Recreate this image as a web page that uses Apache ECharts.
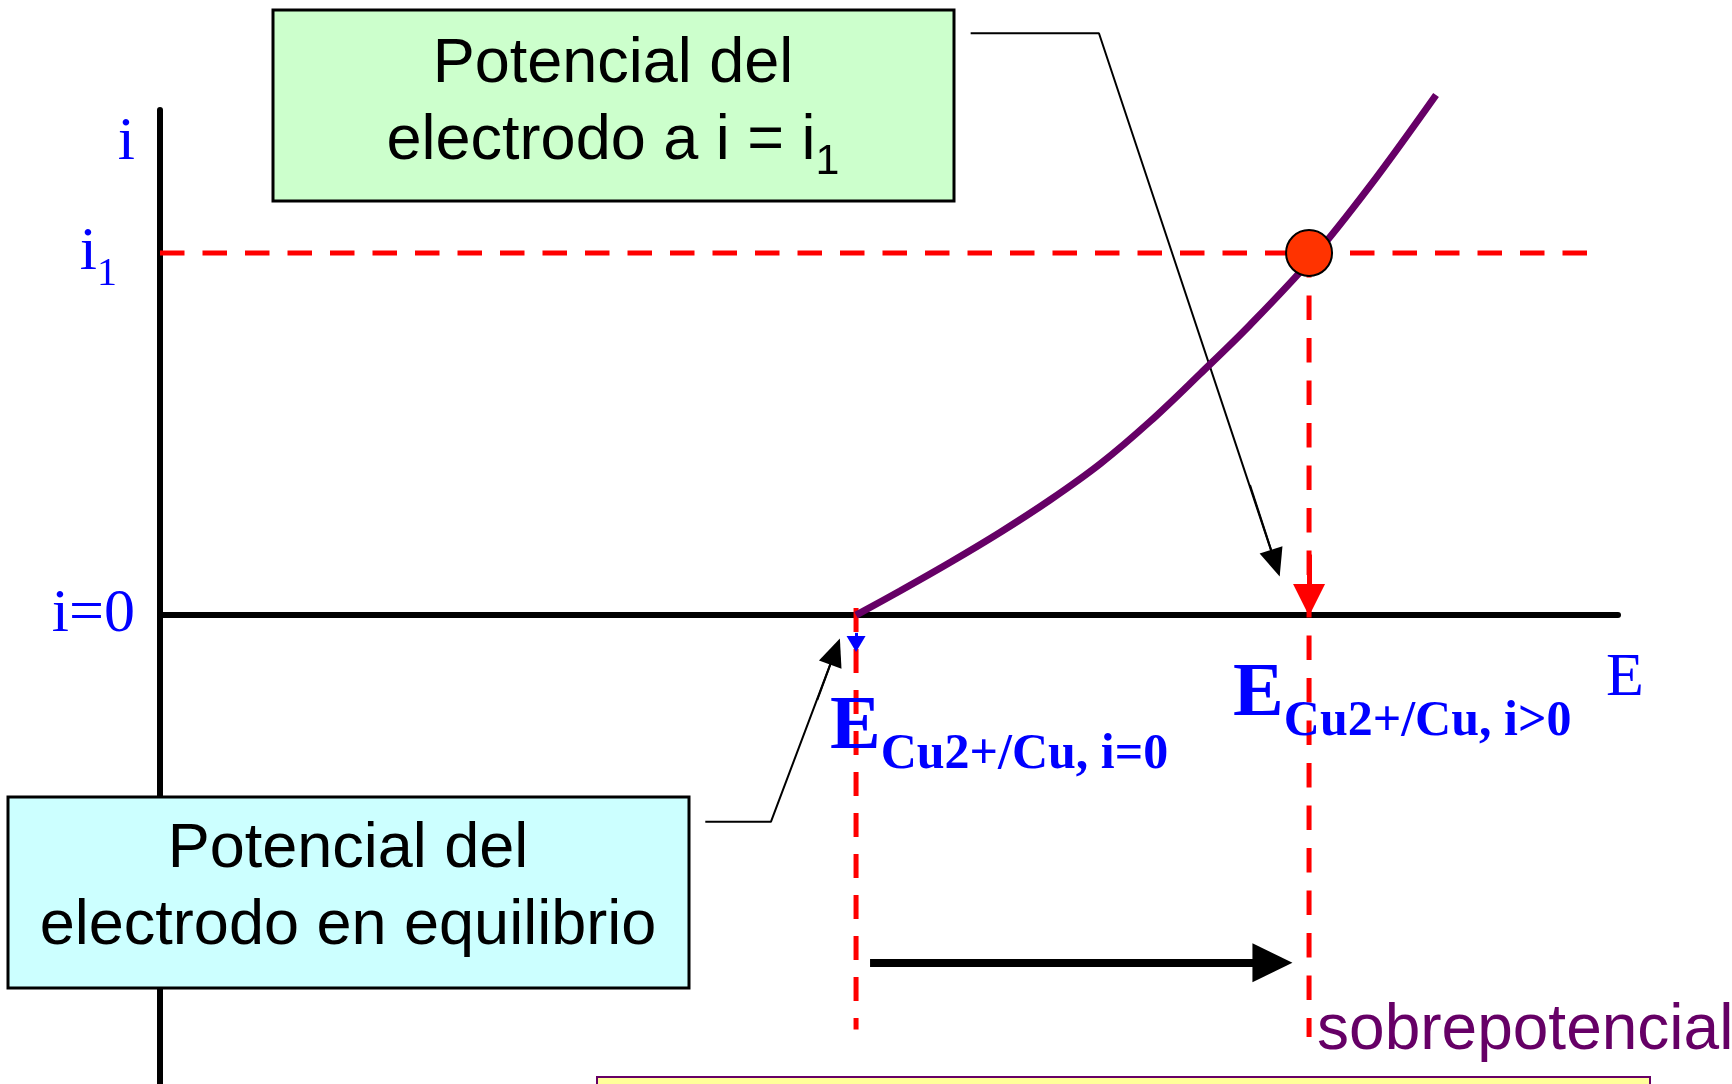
<!DOCTYPE html>
<html>
<head>
<meta charset="utf-8">
<script src="https://cdn.jsdelivr.net/npm/echarts@6/dist/echarts.min.js"></script>
<style>
html, body { margin: 0; padding: 0; background: #fff; }
#chart { width: 1732px; height: 1084px; }
</style>
</head>
<body>
<div id="chart"></div>
<script>
// polarisation curve i(E) (arbitrary units)
var curveE = [47.74, 50.75, 54.18, 57.61, 61.04, 64.47, 67.9, 71.33, 74.76, 78.99, 82.99, 87.52];
var curveI = [0, 4.79, 10.43, 16.37, 22.8, 29.93, 38.34, 47.75, 57.45, 70.51, 84.96, 102.97];

var eEq = 47.74;    // E Cu2+/Cu, i=0
var eLoad = 78.81;  // E Cu2+/Cu, i>0
var iOne = 71.7;    // i1

var yTickValues = [0, iOne, 93.5];
var yTickNames = ['i=0', '{a|i}{b|1}', 'i'];

// guide lines
var guideI1 = [[0, iOne], [97.9, iOne]];
var guideLoad = [[eLoad, iOne], [eLoad, -83.5]];
var guideEq = [[eEq, 1.4], [eEq, -82]];
var overArrow = [[48.7, -68.8], [76.3, -68.8]];

// callout leaders (box -> point)
var leaderTop = [[55.6, 115.2], [64.4, 115.2], [76.5, 10.3]];
var leaderTopHead = [[74.76, 25.77], [76.5, 10.3]];
var leaderLow = [[37.4, -40.9], [41.9, -40.9], [46.3, -7.2]];
var leaderLowHead = [[45.08, -16.79], [46.3, -7.2]];

// annotation anchors
var labelEqPos = [45.95, -29.85];
var labelLoadPos = [73.6, -23.3];
var labelOverPos = [79.36, -82.3];

var curveData = curveE.map(function (e, k) { return [e, curveI[k]]; });

var RED = '#FF0000';
var BLUE = '#0000FF';
var PURPLE = '#660066';
var serif = 'Liberation Serif';
var sans = 'Liberation Sans';

function dashed(data, extra) {
    var s = {
        type: 'line',
        data: data,
        symbol: 'none',
        silent: true,
        clip: false,
        lineStyle: { color: RED, width: 5, type: [24.5, 18] }
    };
    for (var k in extra) s[k] = extra[k];
    return s;
}

function head(from, to, color, w, h, width) {
    return [
        { coord: from, symbol: 'none', lineStyle: { color: color, width: width, type: 'solid' } },
        { coord: to, symbol: 'triangle', symbolSize: [w, h] }
    ];
}

// big E with a lowered subscript
var subLabel = {
    e: { fontFamily: serif, fontWeight: 'bold', fontSize: 76, lineHeight: 76, color: BLUE, verticalAlign: 'top' },
    s: { fontFamily: serif, fontWeight: 'bold', fontSize: 50, lineHeight: 76, color: BLUE, verticalAlign: 'top', padding: [40, 0, 0, 0] }
};

var option = {
    animation: false,
    backgroundColor: '#fff',
    grid: { left: 160, top: 110, width: 1458, height: 975, containLabel: false, outerBoundsMode: 'none' },
    xAxis: {
        type: 'value',
        min: 0,
        max: 100,
        name: 'E',
        nameLocation: 'end',
        nameGap: -12,
        nameTextStyle: {
            color: BLUE, fontFamily: serif, fontSize: 62,
            align: 'left', verticalAlign: 'top', padding: [33, 0, 0, 0]
        },
        axisLine: { onZero: true, lineStyle: { color: '#000', width: 6 } },
        axisTick: { show: false },
        axisLabel: { show: false },
        splitLine: { show: false }
    },
    yAxis: {
        type: 'value',
        min: -93,
        max: 100,
        axisLine: { onZero: false, lineStyle: { color: '#000', width: 6 } },
        axisTick: { show: false },
        splitLine: { show: false },
        axisLabel: {
            customValues: yTickValues,
            margin: 25,
            color: BLUE,
            fontFamily: serif,
            fontSize: 62,
            formatter: function (v) {
                for (var k = 0; k < yTickValues.length; k++) {
                    if (Math.abs(v - yTickValues[k]) < 0.01) return yTickNames[k];
                }
                return '';
            },
            rich: {
                a: { fontFamily: serif, fontSize: 62, lineHeight: 62, color: BLUE, verticalAlign: 'top' },
                b: { fontFamily: serif, fontSize: 40, lineHeight: 62, color: BLUE, verticalAlign: 'top', padding: [33, 18, 0, 0] }
            }
        }
    },
    graphic: [
        {
            type: 'rect', z: 50,
            shape: { x: 273, y: 10, width: 681, height: 191 },
            style: { fill: '#CCFFCC', stroke: '#000', lineWidth: 3 }
        },
        {
            type: 'text', z: 51, x: 613, y: 103,
            style: {
                text: '{m|Potencial del}\n{m|electrodo a i = i}{s|1}',
                align: 'center', verticalAlign: 'middle',
                rich: {
                    m: { fontFamily: sans, fontSize: 63, lineHeight: 77, fill: '#000', verticalAlign: 'middle' },
                    s: { fontFamily: sans, fontSize: 43, lineHeight: 77, fill: '#000', verticalAlign: 'top', padding: [38, 0, 0, 0] }
                }
            }
        },
        {
            type: 'rect', z: 50,
            shape: { x: 8, y: 797, width: 681, height: 191 },
            style: { fill: '#CCFFFF', stroke: '#000', lineWidth: 3 }
        },
        {
            type: 'text', z: 51, x: 348, y: 888,
            style: {
                text: 'Potencial del\nelectrodo en equilibrio',
                align: 'center', verticalAlign: 'middle',
                fontFamily: sans, fontSize: 63, lineHeight: 77, fill: '#000'
            }
        },
        {
            type: 'rect', z: 50,
            shape: { x: 597, y: 1077, width: 1053, height: 30 },
            style: { fill: '#FFFF99', stroke: PURPLE, lineWidth: 2 }
        }
    ],
    series: [
        dashed(guideI1, {}),
        dashed(guideLoad, {
            markLine: {
                silent: true, label: { show: false }, animation: false,
                data: [head([eLoad, 12], [eLoad, 3], RED, 32, 32, 5)]
            }
        }),
        dashed(guideEq, {
            lineStyle: { color: RED, width: 5, type: [24, 17] },
            markLine: {
                silent: true, label: { show: false }, animation: false,
                data: [head([eEq, -3.5], [eEq, -5.7], BLUE, 19, 16, 3)]
            }
        }),
        {
            name: 'i(E)',
            type: 'line',
            data: curveData,
            smooth: 0.35,
            symbol: 'none',
            clip: false,
            silent: true,
            z: 4,
            lineStyle: { color: PURPLE, width: 7 }
        },
        {
            type: 'line', data: leaderTop, symbol: 'none', clip: false, silent: true,
            lineStyle: { color: '#000', width: 2 },
            markLine: {
                silent: true, label: { show: false }, animation: false,
                data: [head(leaderTopHead[0], leaderTopHead[1], '#000', 24, 28, 2)]
            }
        },
        {
            type: 'line', data: leaderLow, symbol: 'none', clip: false, silent: true,
            lineStyle: { color: '#000', width: 2 },
            markLine: {
                silent: true, label: { show: false }, animation: false,
                data: [head(leaderLowHead[0], leaderLowHead[1], '#000', 24, 28, 2)]
            }
        },
        {
            type: 'line', data: [], symbol: 'none', silent: true,
            markLine: {
                silent: true, label: { show: false }, animation: false,
                data: [head(overArrow[0], overArrow[1], '#000', 39, 40, 8)]
            },
            markPoint: {
                silent: true, animation: false,
                symbol: 'circle', symbolSize: 1,
                itemStyle: { color: 'rgba(0,0,0,0)' },
                data: [
                    {
                        coord: labelEqPos,
                        label: {
                            show: true, position: 'inside', align: 'left', verticalAlign: 'bottom',
                            formatter: '{e|E}{s|Cu2+/Cu, i=0}', rich: subLabel
                        }
                    },
                    {
                        coord: labelLoadPos,
                        label: {
                            show: true, position: 'inside', align: 'left', verticalAlign: 'bottom',
                            formatter: '{e|E}{s|Cu2+/Cu, i>0}', rich: subLabel
                        }
                    },
                    {
                        coord: labelOverPos,
                        label: {
                            show: true, position: 'inside', align: 'left', verticalAlign: 'middle',
                            formatter: 'sobrepotencial',
                            color: PURPLE, fontFamily: sans, fontSize: 64
                        }
                    }
                ]
            }
        },
        {
            type: 'scatter',
            data: [[eLoad, iOne]],
            symbolSize: 46,
            silent: true,
            z: 6,
            itemStyle: { color: '#FF3300', borderColor: '#000', borderWidth: 2, opacity: 1 }
        }
    ]
};

var chart = echarts.init(document.getElementById('chart'));
chart.setOption(option);
</script>
</body>
</html>
